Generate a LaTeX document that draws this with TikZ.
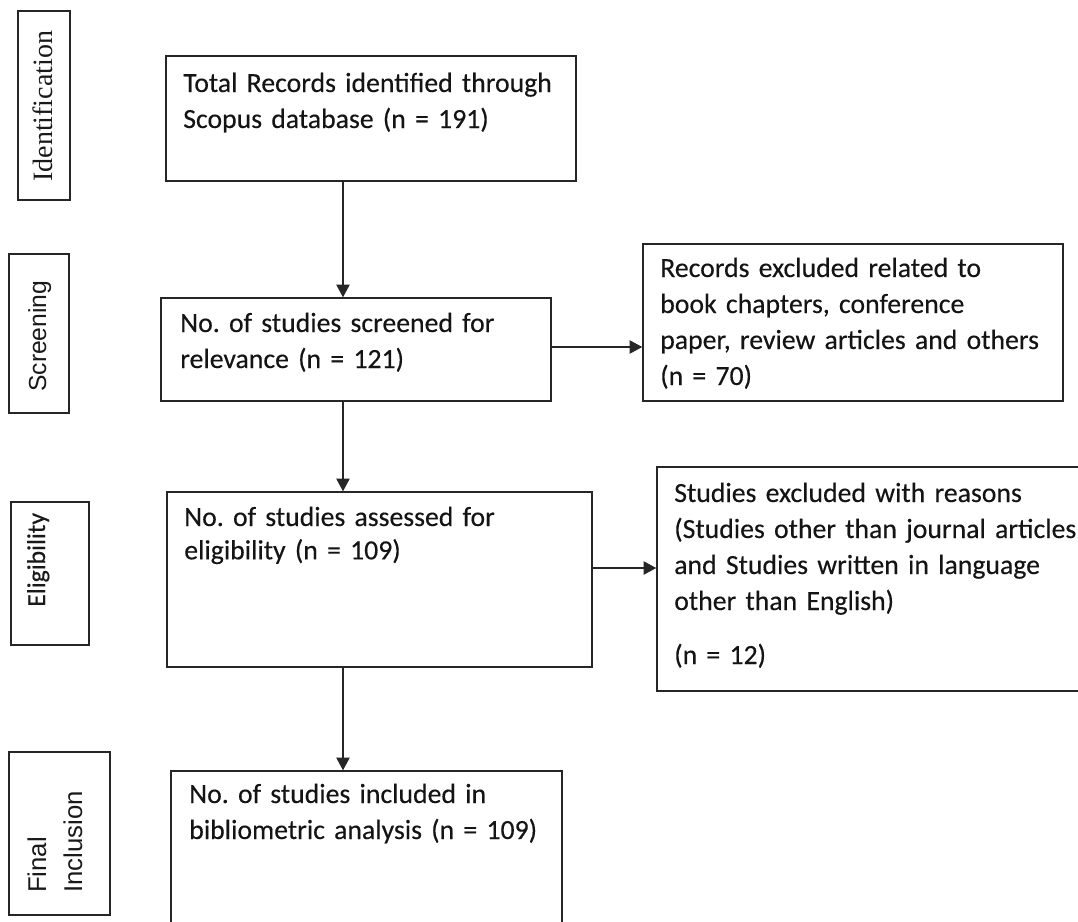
\documentclass[tikz,border=0pt]{standalone}
\usepackage{fontspec}
\setmainfont{Carlito}[FakeBold=0.3]
\newfontfamily\serifA{Liberation Serif}
\newfontfamily\arialA{Liberation Sans}
\usetikzlibrary{arrows.meta}
\frenchspacing
\begin{document}
\begin{tikzpicture}[x=0.75pt,y=-0.75pt,
  box/.style={draw=black!85, line width=1.1pt, rectangle, inner sep=0pt},
  txt/.style={anchor=base west, inner sep=0pt, align=left, text width=330pt,
    font=\fontsize{20.8}{27}\selectfont, text=black!92},
  lbl/.style={anchor=base west, inner sep=0pt, rotate=90, text=black!90},
  arr/.style={draw=black!85, line width=1pt, -{Triangle[length=9.5pt,width=10pt]}}]
\useasboundingbox (0,0) rectangle (1078,921);

% stage labels
\node[box, minimum width=39pt, minimum height=141.75pt] (l1) at (44,105.5) {};
\node[lbl, font=\serifA\fontsize{21}{21}\selectfont] (lt1) at (52,182) {Identification};
\node[box, minimum width=45pt, minimum height=119.25pt] (l2) at (39,333.5) {};
\node[lbl, font=\arialA\fontsize{18.5}{18.5}\selectfont] (lt2) at (46,392) {Screening};
\node[box, minimum width=58.5pt, minimum height=107.25pt] (l3) at (50,573.5) {};
\node[lbl, font=\fontsize{19.3}{19.3}\selectfont] (lt3) at (45,607) {Eligibility};
\node[box, minimum width=75.75pt, minimum height=122.25pt] (l4) at (59.5,833.5) {};
\node[lbl, align=left, text width=100pt, font=\arialA\fontsize{19.3}{27}\selectfont] (lt4) at (46,893) {Final\\Inclusion};

% main boxes
\node[box, minimum width=307.5pt, minimum height=93.75pt] (b1) at (371,118.5) {};
\node[txt] (t1) at (183,92) {Total Records identified through\\Scopus database (n = 191)};
\node[box, minimum width=292.5pt, minimum height=77.25pt] (b2) at (356,349.5) {};
\node[txt] (t2) at (180,332) {No. of studies screened for\\relevance (n = 121)};
\node[box, minimum width=318.75pt, minimum height=131.25pt] (b3) at (379.5,579.5) {};
\node[txt, font=\fontsize{20.8}{25}\selectfont] (t3) at (184,526) {No. of studies assessed for\\eligibility (n = 109)};
\node[box, minimum width=293.25pt, minimum height=123pt] (b4) at (366.5,853) {};
\node[txt] (t4) at (189,803) {No. of studies included in\\bibliometric analysis (n = 109)};

% exclusion boxes
\node[box, minimum width=315pt, minimum height=117.75pt] (r1) at (853,322.5) {};
\node[txt] (tr1) at (660,277) {Records excluded related to\\book chapters, conference\\paper, review articles and others\\(n = 70)};
\node[box, minimum width=332.25pt, minimum height=168pt] (r2) at (878.5,579) {};
\node[txt] (tr2) at (674,502) {Studies excluded with reasons\\(Studies other than journal articles\\and Studies written in language\\other than English)\\[13.5pt](n = 12)};

% connectors
\coordinate (spine) at (343,0);
\coordinate (h1) at (0,347);
\coordinate (h2) at (0,568);
\draw[arr] (b1.south -| spine) -- (b2.north -| spine);
\draw[arr] (b2.south -| spine) -- (b3.north -| spine);
\draw[arr] (b3.south -| spine) -- (b4.north -| spine);
\draw[arr] (b2.east |- h1) -- (r1.west |- h1);
\draw[arr] (b3.east |- h2) -- (r2.west |- h2);
\end{tikzpicture}
\end{document}
